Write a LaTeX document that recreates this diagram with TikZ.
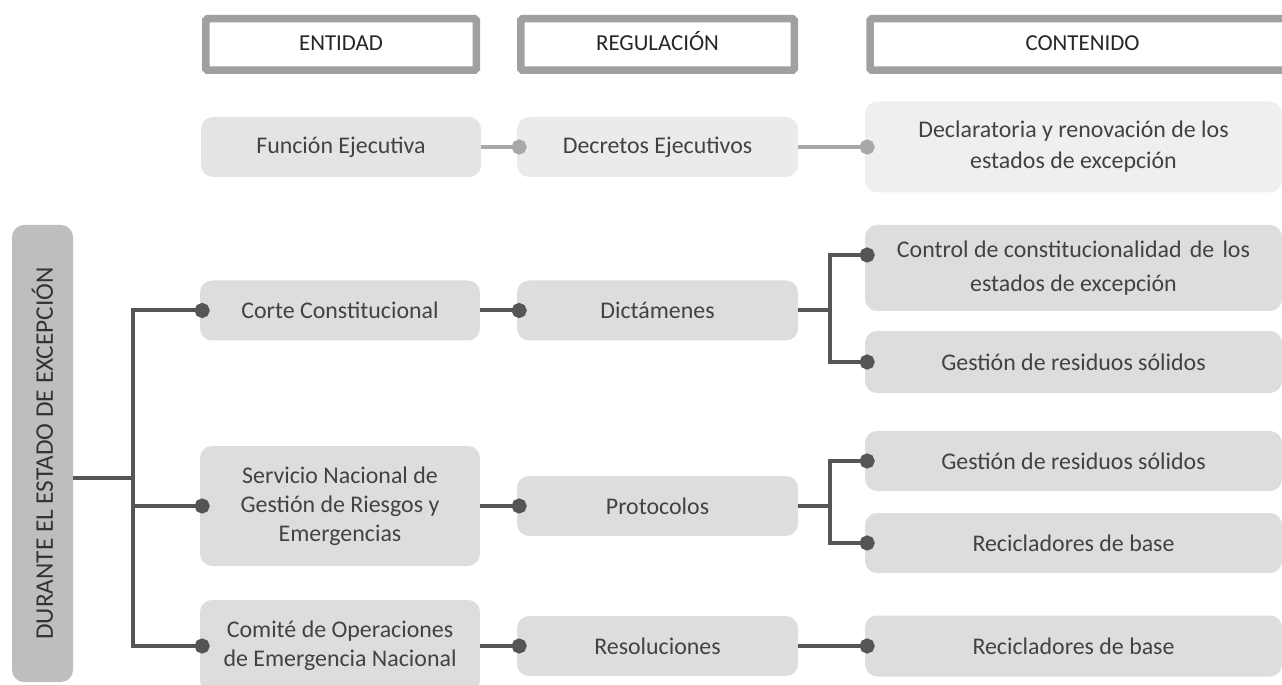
\documentclass[tikz,border=0pt]{standalone}
\usepackage{fontspec}
\setmainfont{Carlito}
\usetikzlibrary{arrows.meta,positioning}
\definecolor{headgray}{HTML}{A0A0A0}
\definecolor{boxgray}{HTML}{DDDDDD}
\definecolor{fungray}{HTML}{E4E4E4}
\definecolor{decgray}{HTML}{EBEBEB}
\definecolor{declgray}{HTML}{EFEFEF}
\definecolor{sidegray}{HTML}{BEBEBE}
\definecolor{linegray}{HTML}{555555}
\definecolor{lightline}{HTML}{A8A8A8}
\definecolor{txtgray}{HTML}{424242}

\begin{document}
\begin{tikzpicture}[
  every node/.style={font=\fontsize{13.6}{16.5}\selectfont, text=txtgray, align=center, inner sep=0pt},
  head/.style={draw=headgray, line width=0.15cm, fill=white, rounded corners=1pt, minimum height=1.03cm,
    text=black!85, font=\fontsize{13}{16}\selectfont, text height=1.7ex, text depth=0.3ex},
  ent/.style={fill=boxgray, rounded corners=0.24cm, minimum height=1.2cm, minimum width=5.6cm},
  reg/.style={ent, minimum width=5.62cm},
  con/.style={ent, minimum width=8.34cm},
  side/.style={fill=sidegray, rounded corners=0.24cm, text=black!80, font=\fontsize{14.4}{17}\selectfont},
  trunk/.style={draw=linegray, line width=0.08cm},
  link/.style={trunk, -{Circle[length=0.3cm]}}
]
\clip (0,0) rectangle (25.64,13.68);
%column headers
\node[head, minimum width=5.41cm] (hEnt) at (6.82,12.79) {ENTIDAD};
\node[head, minimum width=5.47cm] (hReg) at (13.15,12.79) {REGULACIÓN};
\node[head, minimum width=8.5cm] (hCon) at (21.65,12.79) {CONTENIDO};
%first row
\node[ent, fill=fungray] (funcion) at (6.82,10.74) {Función Ejecutiva};
\node[reg, fill=decgray] (decretos) at (13.15,10.74) {Decretos Ejecutivos};
\node[con, fill=declgray, minimum height=1.82cm] (declaratoria) at (21.47,10.74) {Declaratoria y renovación de los\\[1pt]estados de excepción};
\draw[link, draw=lightline] (funcion.east) -- ([xshift=0.2cm]decretos.west);
\draw[link, draw=lightline] (decretos.east) -- ([xshift=0.2cm]declaratoria.west);
%side box
\node[side, rotate=90, minimum width=9.14cm, minimum height=1.22cm] (durante) at (0.85,4.61) {DURANTE EL ESTADO DE EXCEPCIÓN};
%entities
\node[ent] (corte) at (6.80,7.47) {Corte Constitucional};
\node[ent, minimum height=2.4cm] (servicio) at (6.80,3.56) {Servicio Nacional de\\Gestión de Riesgos y\\Emergencias};
\node[ent, minimum height=1.84cm] (comite) at (6.80,0.76) {Comité de Operaciones\\de Emergencia Nacional};
%regulations
\node[reg] (dictamenes) at (13.15,7.47) {Dictámenes};
\node[reg] (protocolos) at (13.15,3.56) {Protocolos};
\node[reg] (resoluciones) at (13.15,0.76) {Resoluciones};
%contents
\node[con, minimum height=1.72cm] (control) at (21.47,8.32) {Control de constitucionalidad\hspace{0.12em} de\hspace{0.12em} los\\[3pt]estados de excepción};
\node[con, minimum height=1.24cm] (gestionA) at (21.47,6.44) {Gestión de residuos sólidos};
\node[con] (gestionB) at (21.47,4.46) {Gestión de residuos sólidos};
\node[con] (recicladoresA) at (21.47,2.82) {Recicladores de base};
\node[con, minimum height=1.22cm] (recicladoresB) at (21.47,0.76) {Recicladores de base};
%trunk from the side box
\coordinate (split) at (2.66,4.12);
\draw[trunk] (durante.south |- split) -- (split);
\draw[link] (comite.west -| split) |- ([xshift=0.2cm]corte.west);
\draw[link] (corte.west -| split) |- ([xshift=0.2cm]comite.west);
\draw[link] (split |- servicio.west) -- ([xshift=0.2cm]servicio.west);
%entity to regulation
\draw[link] (corte.east) -- ([xshift=0.2cm]dictamenes.west);
\draw[link] (servicio.east |- protocolos.west) -- ([xshift=0.2cm]protocolos.west);
\draw[link] (comite.east |- resoluciones.west) -- ([xshift=0.2cm]resoluciones.west);
%brackets to contents
\coordinate (bDic) at ([xshift=0.64cm]dictamenes.east);
\draw[trunk] (dictamenes.east) -- (bDic);
\draw[link] (bDic) |- ([xshift=0.2cm,yshift=0.26cm]control.west);
\draw[link] (bDic) |- ([xshift=0.2cm]gestionA.west);
\coordinate (bPro) at ([xshift=0.64cm]protocolos.east);
\draw[trunk] (protocolos.east) -- (bPro);
\draw[link] (bPro) |- ([xshift=0.2cm]gestionB.west);
\draw[link] (bPro) |- ([xshift=0.2cm]recicladoresA.west);
\draw[link] (resoluciones.east) -- ([xshift=0.2cm]recicladoresB.west);
\end{tikzpicture}
\end{document}
